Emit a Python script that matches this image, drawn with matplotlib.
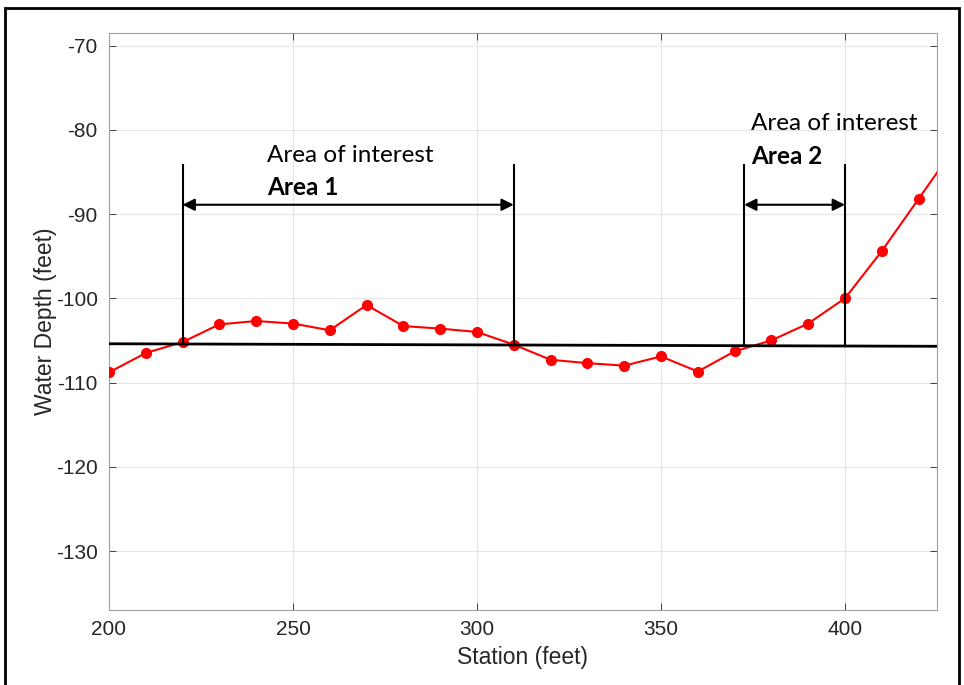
import matplotlib.pyplot as plt
from matplotlib.patches import Rectangle

plt.rcParams["font.family"] = ["Liberation Sans", "DejaVu Sans"]
plt.rcParams["axes.unicode_minus"] = False

station = [200, 210, 220, 230, 240, 250, 260, 270, 280, 290, 300, 310,
           320, 330, 340, 350, 360, 370, 380, 390, 400, 410, 420, 430]
depth = [-108.8, -106.5, -105.2, -103.1, -102.7, -103.0, -103.8, -100.8,
         -103.3, -103.6, -104.0, -105.5, -107.3, -107.7, -108.0, -106.9,
         -108.7, -106.3, -105.0, -103.0, -100.0, -94.4, -88.2, -82.0]

base_x = [200, 425]
base_y = [-105.4, -105.7]

# area markers: (left, right, top of markers, arrow level)
areas = [(220, 310, -84.2, -88.9), (372.6, 400, -84.2, -88.9)]
area_names = ["Area 1", "Area 2"]
label_pos = [(243, -83.0, -86.8), (374.5, -79.3, -83.2)]

fig = plt.figure(figsize=(9.64, 6.85), dpi=100)
ax = fig.add_axes([0.113, 0.1095, 0.859, 0.8425])

ax.plot(station, depth, color="red", marker="o", markersize=7, linewidth=1.5, zorder=3)
ax.plot(base_x, base_y, color="black", linewidth=2, zorder=4)

for (x0, x1, top, arr), name, (tx, ty1, ty2) in zip(areas, area_names, label_pos):
    b0 = base_y[0] + (base_y[1] - base_y[0]) * (x0 - base_x[0]) / (base_x[1] - base_x[0])
    b1 = base_y[0] + (base_y[1] - base_y[0]) * (x1 - base_x[0]) / (base_x[1] - base_x[0])
    ax.plot([x0, x0], [b0, top], color="black", linewidth=1.5, zorder=4)
    ax.plot([x1, x1], [b1, top], color="black", linewidth=1.5, zorder=4)
    ax.annotate("", xy=(x0, arr), xytext=(x1, arr),
                arrowprops=dict(arrowstyle="<|-|>", color="black", lw=1.5,
                                mutation_scale=18, shrinkA=0, shrinkB=0), zorder=5)
    ax.text(tx, ty1, "Area of interest", fontsize=17.5, family=["Lato", "DejaVu Sans"],
            va="center", ha="left")
    ax.text(tx, ty2, name, fontsize=17.5, family=["Lato", "DejaVu Sans"],
            fontweight="bold", va="center", ha="left")

ax.set_xlim(200, 425)
ax.set_ylim(-137, -68.5)
ax.set_xticks([200, 250, 300, 350, 400])
ax.set_yticks([-130, -120, -110, -100, -90, -80, -70])
ax.grid(True, color="#e6e6e6", linewidth=0.8)
ax.set_axisbelow(True)
ax.tick_params(direction="in", top=True, right=True, labelsize=15, colors="#262626",
               length=5, width=0.6)
ax.tick_params(axis="y", pad=8)
ax.tick_params(axis="x", pad=7)
for s in ax.spines.values():
    s.set_color("#a0a0a0")
    s.set_linewidth(0.8)
ax.set_xlabel("Station (feet)", fontsize=16.5, color="#262626", va="center")
ax.set_ylabel("Water Depth (feet)", fontsize=16.5, color="#262626", va="center")
ax.xaxis.set_label_coords(0.5, -0.083)
ax.yaxis.set_label_coords(-0.077, 0.5)

# outer frame
fig.patches.append(Rectangle((0.005, -0.05), 0.99, 1.038, transform=fig.transFigure,
                             fill=False, edgecolor="black", linewidth=2))

fig.savefig("out.png", dpi=100)
